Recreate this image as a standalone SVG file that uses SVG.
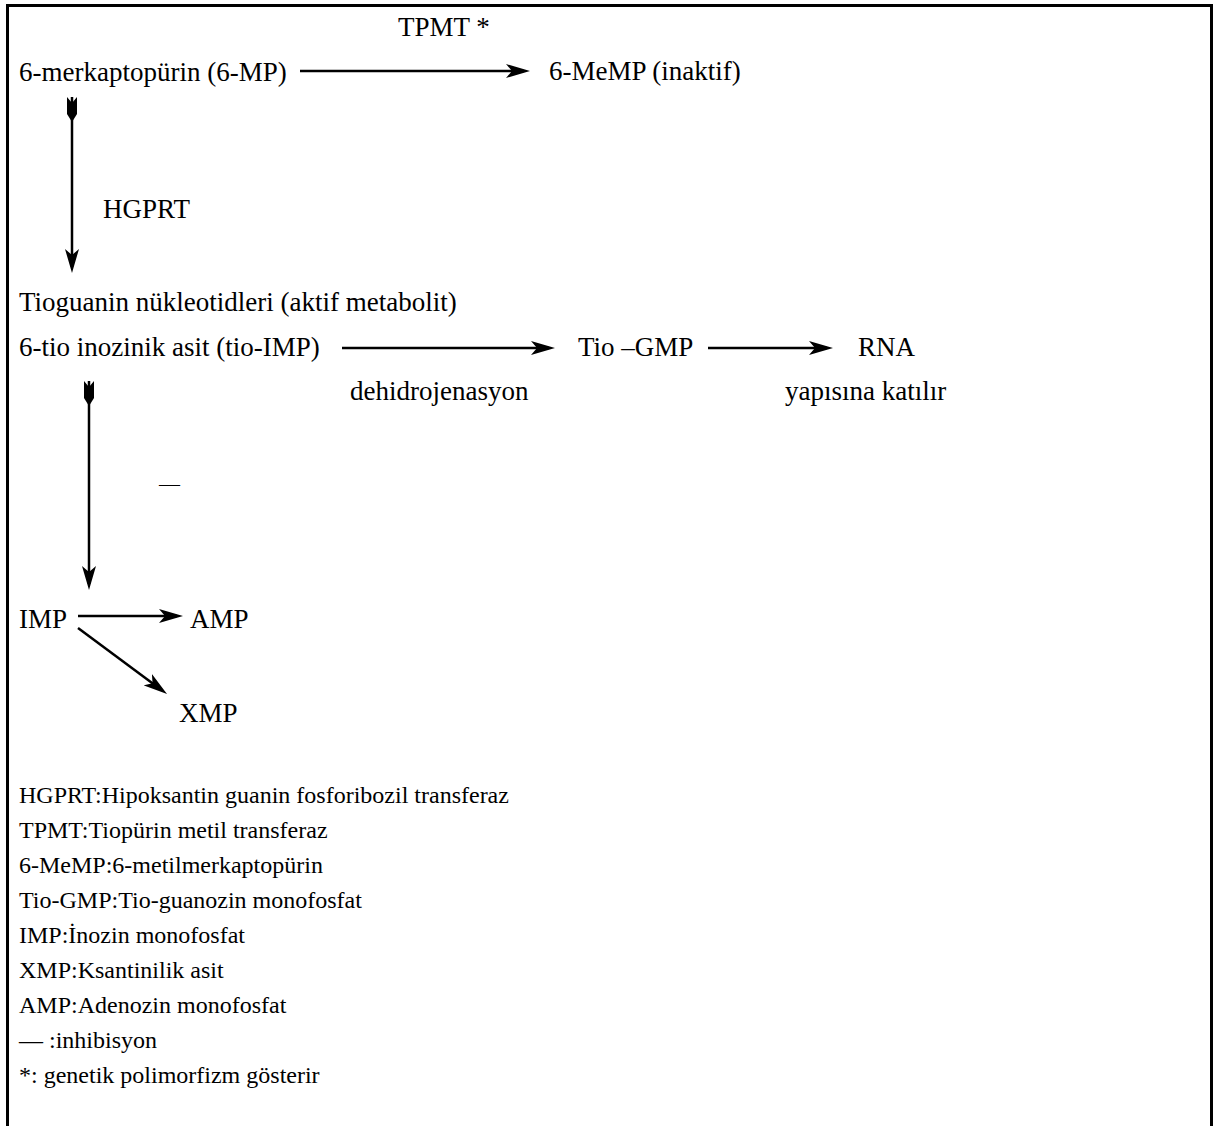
<svg xmlns="http://www.w3.org/2000/svg" width="1216" height="1126" viewBox="0 0 1216 1126">
<defs>
<marker id="ah" viewBox="0 0 24 14" refX="18" refY="7" markerWidth="24" markerHeight="14" markerUnits="userSpaceOnUse" orient="auto"><path d="M0,0 L24,7 L0,14 L6,7 Z" fill="#000"/></marker>
<marker id="tail" viewBox="0 -6 26 12" refX="0" refY="0" markerWidth="26" markerHeight="12" markerUnits="userSpaceOnUse" orient="auto"><path d="M0,-5 L6,0 L0,5 L17,5 L25,0 L17,-5 Z" fill="#000"/></marker>
<style>
text{font-family:"Liberation Serif","Times New Roman",serif;fill:#000}
.m{font-size:27px}
.l{font-size:24px}
.c{stroke:#000;stroke-width:2.5;fill:none;marker-end:url(#ah)}
.t{marker-start:url(#tail)}
</style>
</defs>
<rect x="0" y="0" width="1216" height="1126" fill="#fff"/>
<rect x="7.5" y="5.5" width="1204" height="1130" fill="#fff" stroke="#000" stroke-width="3"/>
<g id="connectors">
<path class="c" d="M300,71 H524"/>
<path class="c t" d="M72,97 V267"/>
<path class="c" d="M342,348 H549"/>
<path class="c" d="M708,348 H827"/>
<path class="c t" d="M89,381 V584"/>
<path class="c" d="M78,616 H177"/>
<path class="c" d="M78,628 L162.2,690.4"/>
</g>
<g id="n-tpmt"><text class="m" x="398" y="36">TPMT *</text></g>
<g id="n-6mp"><text class="m" x="19" y="81">6-merkaptopürin (6-MP)</text></g>
<g id="n-6memp"><text class="m" x="549" y="80">6-MeMP (inaktif)</text></g>
<g id="n-hgprt"><text class="m" x="103" y="218">HGPRT</text></g>
<g id="n-tioguanin"><text class="m" x="19" y="311">Tioguanin nükleotidleri (aktif metabolit)</text></g>
<g id="n-tioimp"><text class="m" x="19" y="356">6-tio inozinik asit (tio-IMP)</text></g>
<g id="n-tiogmp"><text class="m" x="578" y="356">Tio –GMP</text></g>
<g id="n-rna"><text class="m" x="858" y="356">RNA</text></g>
<g id="n-dehidro"><text class="m" x="350" y="400">dehidrojenasyon</text></g>
<g id="n-yapisina"><text class="m" x="785" y="400">yapısına katılır</text></g>
<g id="n-inhib"><text x="159" y="491" style="font-size:21px">—</text></g>
<g id="n-imp"><text class="m" x="19" y="628">IMP</text></g>
<g id="n-amp"><text class="m" x="190" y="628">AMP</text></g>
<g id="n-xmp"><text class="m" x="179" y="722">XMP</text></g>
<g id="legend">
<text class="l" x="19" y="803">HGPRT:Hipoksantin guanin fosforibozil transferaz</text>
<text class="l" x="19" y="838">TPMT:Tiopürin metil transferaz</text>
<text class="l" x="19" y="873">6-MeMP:6-metilmerkaptopürin</text>
<text class="l" x="19" y="908">Tio-GMP:Tio-guanozin monofosfat</text>
<text class="l" x="19" y="943">IMP:İnozin monofosfat</text>
<text class="l" x="19" y="978">XMP:Ksantinilik asit</text>
<text class="l" x="19" y="1013">AMP:Adenozin monofosfat</text>
<text class="l" x="19" y="1048">— :inhibisyon</text>
<text class="l" x="19" y="1083">*: genetik polimorfizm gösterir</text>
</g>
</svg>
